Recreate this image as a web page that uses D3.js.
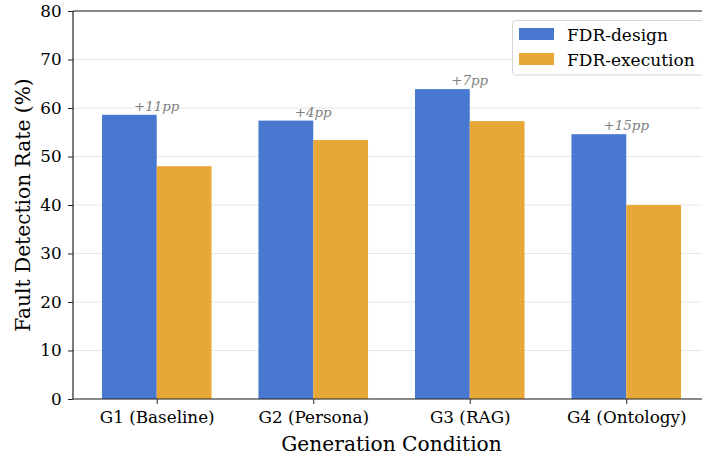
<!DOCTYPE html>
<html><head><meta charset="utf-8">
<script src="https://cdn.jsdelivr.net/npm/d3@7"></script>
<style>body{margin:0;background:#fff}svg{display:block}text{font-family:"DejaVu Serif",serif}</style>
</head><body><svg id="c" width="702" height="458"></svg>
<script>
const categories = ["G1 (Baseline)", "G2 (Persona)", "G3 (RAG)", "G4 (Ontology)"];
const fdrDesign = [58.6, 57.4, 63.9, 54.6];
const fdrExecution = [48.0, 53.4, 57.3, 40.0];
const gapLabels = ["+11pp", "+4pp", "+7pp", "+15pp"];
const yTicks = [0, 10, 20, 30, 40, 50, 60, 70, 80];
const seriesNames = ["FDR-design", "FDR-execution"];
const colors = ["#4878CF", "#E8A838"];

const svg = d3.select("#c");
const L = 73, R = 710, T = 11, B = 399;
const barW = 0.35;
const x = d3.scaleLinear().domain([-0.535, 3.535]).range([L, R]);
const y = d3.scaleLinear().domain([0, 80]).range([B, T]);

// grid
svg.append("g").selectAll("line").data(yTicks).join("line")
  .attr("x1", L).attr("x2", R).attr("y1", d => y(d)).attr("y2", d => y(d))
  .attr("stroke", "#e6e6e6").attr("stroke-width", 1);

// bars
const series = [fdrDesign, fdrExecution];
series.forEach((vals, si) => {
  svg.append("g").selectAll("rect").data(vals).join("rect")
    .attr("x", (d, i) => x(i + (si === 0 ? -barW : 0)))
    .attr("width", x(barW) - x(0))
    .attr("y", d => y(d))
    .attr("height", d => y(0) - y(d))
    .attr("fill", colors[si]);
});

// gap annotations
svg.append("g").selectAll("text").data(gapLabels).join("text")
  .attr("x", (d, i) => x(i))
  .attr("y", (d, i) => y(Math.max(fdrDesign[i], fdrExecution[i])) - 4)
  .attr("text-anchor", "middle")
  .attr("font-style", "italic")
  .attr("font-size", 13.4)
  .attr("fill", "#808080")
  .text(d => d);

// axes
const yAxis = d3.axisLeft(y).tickValues(yTicks).tickSize(5).tickPadding(6.3);
const gy = svg.append("g").attr("transform", `translate(${L},0)`).call(yAxis);
const xAxis = d3.axisBottom(x).tickValues([0, 1, 2, 3]).tickFormat(i => categories[i]).tickSize(5);
const gx = svg.append("g").attr("transform", `translate(0,${B})`).call(xAxis);
gx.selectAll(".tick text").attr("y", 24.3).attr("dy", null);
[gx, gy].forEach(g => {
  g.selectAll("text").attr("font-family", "DejaVu Serif").attr("font-size", 16.8).attr("fill", "#000");
  g.selectAll("line").attr("stroke", "#222");
  g.select(".domain").remove();
});
// spines
svg.append("line").attr("x1", L).attr("x2", L).attr("y1", T).attr("y2", B).attr("stroke", "#222").attr("stroke-width", 1.2);
svg.append("line").attr("x1", L).attr("x2", R).attr("y1", B).attr("y2", B).attr("stroke", "#222").attr("stroke-width", 1.2);
svg.append("line").attr("x1", L).attr("x2", R).attr("y1", T).attr("y2", T).attr("stroke", "#222").attr("stroke-width", 1.2);

// axis labels
svg.append("text").attr("x", (L + R) / 2).attr("y", 451).attr("text-anchor", "middle")
  .attr("font-size", 20.2).attr("fill", "#000").text("Generation Condition");
svg.append("text").attr("transform", `translate(30,${(T + B) / 2}) rotate(-90)`).attr("text-anchor", "middle")
  .attr("font-size", 20.2).attr("fill", "#000").text("Fault Detection Rate (%)");

// legend
const lg = svg.append("g");
lg.append("rect").attr("x", 512.5).attr("y", 20.5).attr("width", 200).attr("height", 54.5)
  .attr("rx", 3).attr("fill", "#fff").attr("fill-opacity", 0.8).attr("stroke", "#d6d6d6");
seriesNames.forEach((n, i) => {
  lg.append("rect").attr("x", 519).attr("y", 28 + i * 25).attr("width", 35).attr("height", 12).attr("fill", colors[i]);
  lg.append("text").attr("x", 567).attr("y", 40.5 + i * 25).attr("font-size", 17).attr("fill", "#000").text(n);
});
</script></body></html>
